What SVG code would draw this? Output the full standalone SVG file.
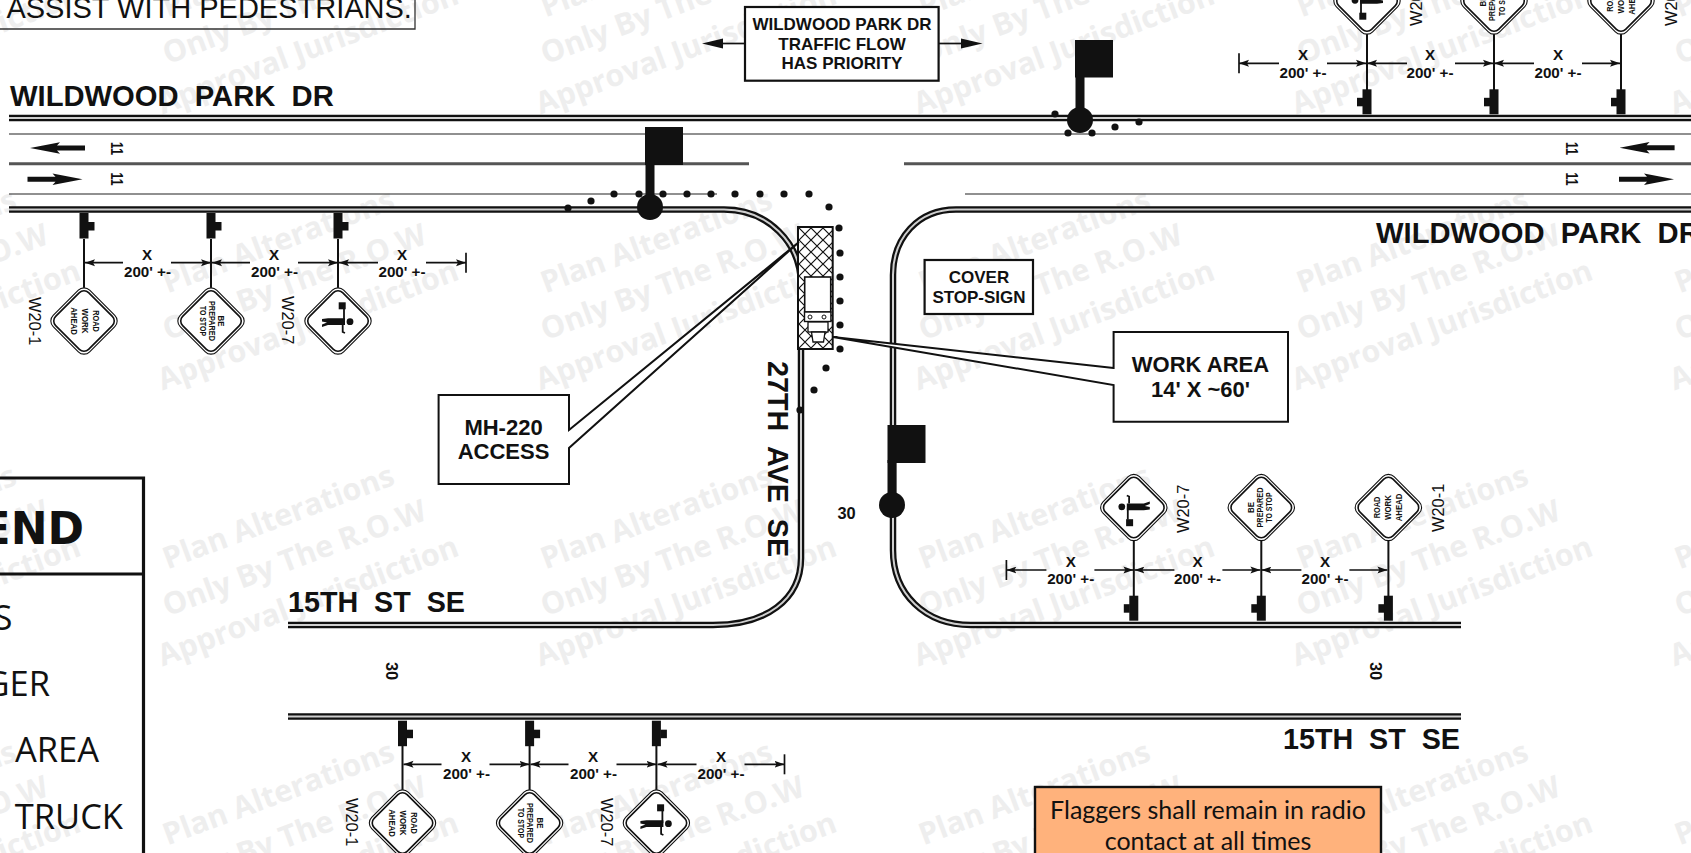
<svg xmlns="http://www.w3.org/2000/svg" xmlns:xlink="http://www.w3.org/1999/xlink" width="1691" height="853" viewBox="0 0 1691 853">
<style>
text{font-family:"Liberation Sans",Arial,sans-serif;fill:#111;white-space:pre}
.b{font-weight:bold}
.st{font-weight:bold;font-size:28.7px}
.wp{font-size:29.2px}
.mid{text-anchor:middle}
.box{font-weight:bold;font-size:17px;text-anchor:middle}
.cal{font-weight:bold;font-size:22px;text-anchor:middle}
.dx{font-weight:bold;font-size:15.2px;text-anchor:middle}
.sg{font-size:16.4px}
.sn{font-weight:bold;font-size:8.6px;text-anchor:middle}
.wm{font-family:"Open Sans",sans-serif;font-weight:700;fill:#eeeeee}
.leg{font-family:"Open Sans",sans-serif;font-size:34.5px;text-anchor:end}
.curb0{fill:none;stroke:#111;stroke-width:6.5}
.curb1{fill:none;stroke:#cfcfcf;stroke-width:2}
.thin{fill:none;stroke:#222;stroke-width:1.2}
.midl{fill:none;stroke:#555;stroke-width:3}
.pole{fill:none;stroke:#111;stroke-width:2}
.dim{fill:none;stroke:#111;stroke-width:1.7}
.k{fill:#111}
.rb{fill:#fff;stroke:#111;stroke-width:2.2}
.lead{fill:none;stroke:#111;stroke-width:2}
</style>
<defs>
<marker id="ah" markerUnits="userSpaceOnUse" markerWidth="12" markerHeight="10" refX="10" refY="5" orient="auto"><path d="M0 1.5L10 5L0 8.5L2 5Z" fill="#111"/></marker>
<pattern id="hatch" patternUnits="userSpaceOnUse" width="12" height="12" patternTransform="translate(799 228)"><path d="M0 0L12 12M12 0L0 12" stroke="#111" stroke-width="1.2" fill="none"/></pattern>
<g id="dia"><rect x="-25.8" y="-25.8" width="51.6" height="51.6" rx="8" transform="rotate(45)" fill="#fff" stroke="#111" stroke-width="1.1"/><rect x="-23.3" y="-23.3" width="46.6" height="46.6" rx="6.5" transform="rotate(45)" fill="#fff" stroke="#111" stroke-width="1.6"/></g>
<g id="postL"><rect x="-4.5" y="0" width="9" height="25.5" class="k"/><rect x="4" y="9" width="6.5" height="8.5" class="k"/></g>
<g id="postR"><rect x="-4.5" y="0" width="9" height="25" class="k"/><rect x="-10" y="8.5" width="6" height="8.5" class="k"/></g>
<g id="flagger"><rect x="0.7" y="-18.7" width="7" height="7" class="k"/><path d="M6 -12V0M4.7 4V11L7 12" fill="none" stroke="#111" stroke-width="1.8"/><path d="M-10 -2.7H7V4H-10L-16 6V3.6L-11 1.5L-16 0.4V-2Z" class="k"/><circle cx="12" cy="0.7" r="3.4" class="k"/></g>
<g id="dims"><path class="dim" d="M39 0H1" marker-end="url(#ah)"/><path class="dim" d="M87 0H127" marker-end="url(#ah)"/><path class="dim" d="M166 0H128" marker-end="url(#ah)"/><path class="dim" d="M214 0H254" marker-end="url(#ah)"/><path class="dim" d="M294 0H255" marker-end="url(#ah)"/><path class="dim" d="M342 0H382" marker-end="url(#ah)"/><path class="dim" d="M382 -10V10"/></g>
<g id="wmk"><text class="wm" font-size="30.4" transform="rotate(-20.5)">Plan Alterations</text><text class="wm" font-size="30.4" transform="translate(0 47) rotate(-20.5)">Only By The R.O.W</text><text class="wm" font-size="30.4" transform="translate(-5 97) rotate(-20.5)">Approval Jurisdiction</text></g>
<path id="arrR" d="M0 -2.5H28L25 -5.7L55 0L25 5.7L28 2.5H0Z"/>
</defs>
<rect width="1691" height="853" fill="#fff"/>
<g id="watermark" transform="translate(3.5 6.5)">
<use href="#wmk" x="-214" y="11"/><use href="#wmk" x="164" y="11"/><use href="#wmk" x="542" y="11"/><use href="#wmk" x="920" y="11"/><use href="#wmk" x="1298" y="11"/><use href="#wmk" x="1676" y="11"/>
<use href="#wmk" x="-214" y="287"/><use href="#wmk" x="164" y="287"/><use href="#wmk" x="542" y="287"/><use href="#wmk" x="920" y="287"/><use href="#wmk" x="1298" y="287"/><use href="#wmk" x="1676" y="287"/>
<use href="#wmk" x="-214" y="563"/><use href="#wmk" x="164" y="563"/><use href="#wmk" x="542" y="563"/><use href="#wmk" x="920" y="563"/><use href="#wmk" x="1298" y="563"/><use href="#wmk" x="1676" y="563"/>
<use href="#wmk" x="-214" y="839"/><use href="#wmk" x="164" y="839"/><use href="#wmk" x="542" y="839"/><use href="#wmk" x="920" y="839"/><use href="#wmk" x="1298" y="839"/><use href="#wmk" x="1676" y="839"/>
</g>
<g id="roads">
<path class="curb0" d="M9 118H1691"/><path class="curb1" d="M9 118H1691"/>
<path class="thin" d="M9 134H1691M9 194H717M965 194H1691"/>
<path class="midl" d="M9 163.7H749M904 163.7H1691"/>
<path id="curb-west" class="curb0" d="M9 209.5H724C768 209.5 801 243 801 285V558C801 600 766 625 713 625H288"/>
<path class="curb1" d="M9 209.5H724C768 209.5 801 243 801 285V558C801 600 766 625 713 625H288"/>
<path id="curb-east" class="curb0" d="M1691 209.5H956C918 209.5 893 238 893 275V550C893 594 925 625 971 625H1461"/>
<path class="curb1" d="M1691 209.5H956C918 209.5 893 238 893 275V550C893 594 925 625 971 625H1461"/>
<path class="curb0" d="M288 716.5H1461"/><path class="curb1" d="M288 716.5H1461"/>
</g>
<g id="lane-arrows">
<use href="#arrR" transform="translate(85 148) scale(-1 1)" class="k"/><use href="#arrR" transform="translate(27.5 179.3)" class="k"/>
<use href="#arrR" transform="translate(1674.6 147.7) scale(-1 1)" class="k"/><use href="#arrR" transform="translate(1619 179.3)" class="k"/>
<text class="b" font-size="16" textLength="13" lengthAdjust="spacingAndGlyphs" transform="translate(111.4 142) rotate(90)">11</text>
<text class="b" font-size="16" textLength="13" lengthAdjust="spacingAndGlyphs" transform="translate(111.4 172.5) rotate(90)">11</text>
<text class="b" font-size="16" textLength="13" lengthAdjust="spacingAndGlyphs" transform="translate(1566 142) rotate(90)">11</text>
<text class="b" font-size="16" textLength="13" lengthAdjust="spacingAndGlyphs" transform="translate(1566 172.5) rotate(90)">11</text>
</g>
<g id="street-names">
<text class="st wp" x="10" y="105.5">WILDWOOD  PARK  DR</text>
<text class="st wp" x="1376" y="243">WILDWOOD  PARK  DR</text>
<text class="st" x="288" y="612">15TH  ST  SE</text>
<text class="st" x="1283" y="749">15TH  ST  SE</text>
<text class="st" transform="translate(768 361) rotate(90)">27TH  AVE  SE</text>
<text class="b" font-size="16.4" x="837.5" y="519">30</text>
<text class="b" font-size="16.4" transform="translate(386 662) rotate(90)">30</text>
<text class="b" font-size="16.4" transform="translate(1369.5 662) rotate(90)">30</text>
</g>
<g id="note-top"><path d="M-2 29H415V-2" fill="none" stroke="#333" stroke-width="1.3"/><text font-size="29" x="6.4" y="18.3">ASSIST WITH PEDESTRIANS.</text></g>
<g id="legend"><path d="M-3 478H143.5V856M-3 574H143.5" fill="none" stroke="#111" stroke-width="3.2"/>
<text style="font-family:'DejaVu Sans',sans-serif;font-weight:bold;font-size:44px;text-anchor:end" x="84" y="544">END</text>
<text class="leg" x="12.5" y="629.5">S</text><text class="leg" x="50" y="695.5">GER</text><text class="leg" x="99" y="762">AREA</text><text class="leg" x="123" y="828.5">TRUCK</text></g>
<g id="connectors">
<path class="dim" d="M745 43.5H722"/><path class="k" d="M723 38.5L702 43.5L723 48.5Z"/>
<path class="dim" d="M938.6 43.5H962"/><path class="k" d="M961 38.5L982.5 43.5L961 48.5Z"/>
<use href="#dims" x="84" y="262.7"/>
<use href="#dims" x="402.5" y="764.3"/>
<use href="#dims" transform="translate(1621 63.3) scale(-1 1)"/>
<use href="#dims" transform="translate(1388.4 570) scale(-1 1)"/>
</g>
<g id="work-area">
<rect x="798" y="227" width="34.7" height="122" fill="#fff"/>
<rect x="798" y="227" width="34.7" height="122" fill="url(#hatch)" stroke="#111" stroke-width="2"/>
<rect x="804.7" y="277" width="26" height="35" fill="#fff" stroke="#111" stroke-width="1.6"/>
<rect x="804.5" y="312" width="26.4" height="9.5" fill="#fff" stroke="#111" stroke-width="1.4"/>
<circle cx="810" cy="317" r="2" fill="#fff" stroke="#111" stroke-width="1"/><circle cx="824" cy="317" r="2" fill="#fff" stroke="#111" stroke-width="1"/>
<rect x="808" y="322" width="20" height="10" fill="#fff" stroke="#111" stroke-width="1.3"/>
<path d="M811.5 332H825L823.5 342H813Z" fill="#fff" stroke="#111" stroke-width="1.3"/>
</g>
<g id="flag-1"><rect x="645" y="127" width="38" height="38" class="k"/><rect x="645.5" y="160" width="9" height="45" class="k"/><circle cx="650" cy="207" r="13" class="k"/></g>
<g id="flag-2"><rect x="1075" y="40" width="38" height="37.5" class="k"/><rect x="1075.5" y="75" width="9" height="40" class="k"/><circle cx="1080" cy="120" r="13" class="k"/></g>
<g id="flag-3"><rect x="887.5" y="425" width="38" height="38" class="k"/><rect x="887.5" y="460" width="9" height="40" class="k"/><circle cx="892" cy="505" r="13" class="k"/></g>
<g id="taper" class="k">
<circle cx="568" cy="208" r="3.6"/><circle cx="591" cy="201" r="3.6"/><circle cx="614" cy="194" r="3.6"/><circle cx="639" cy="194" r="3.6"/><circle cx="663" cy="194" r="3.6"/><circle cx="687" cy="194" r="3.6"/><circle cx="711" cy="194" r="3.6"/><circle cx="735" cy="194" r="3.6"/><circle cx="760" cy="194" r="3.6"/><circle cx="784" cy="194" r="3.6"/><circle cx="809" cy="194" r="3.6"/><circle cx="829" cy="207" r="3.6"/><circle cx="839" cy="228" r="3.6"/><circle cx="840" cy="253" r="3.6"/><circle cx="840" cy="277" r="3.6"/><circle cx="840" cy="301" r="3.6"/><circle cx="840" cy="325" r="3.6"/><circle cx="840" cy="349" r="3.6"/><circle cx="826" cy="368" r="3.6"/><circle cx="814" cy="390" r="3.6"/><circle cx="800" cy="410" r="3.6"/>
<circle cx="1055" cy="114" r="3.6"/><circle cx="1068" cy="133" r="3.6"/><circle cx="1092" cy="133" r="3.6"/><circle cx="1115" cy="127" r="3.6"/><circle cx="1139" cy="122" r="3.6"/>
</g>
<g id="box-priority"><rect class="rb" x="745" y="7" width="193.6" height="73.7"/><text class="box" x="842" y="30">WILDWOOD PARK DR</text><text class="box" x="842" y="49.5">TRAFFIC FLOW</text><text class="box" x="842" y="69">HAS PRIORITY</text></g>
<g id="box-cover"><rect class="rb" x="924.6" y="260" width="108.4" height="54"/><text class="box" x="979" y="283">COVER</text><text class="box" x="979" y="303">STOP-SIGN</text></g>
<g id="box-mh"><path d="M569 430L799 242L569 448V484H438.6V395H569Z" fill="#fff"/><path class="lead" d="M569 430L799 242L569 448V484H438.6V395H569Z"/><text class="cal" x="503.5" y="435">MH-220</text><text class="cal" x="503.5" y="459">ACCESS</text></g>
<g id="box-work"><path d="M1113.6 368L833 337L1113.6 385V421.7H1288V332H1113.6Z" fill="#fff"/><path class="lead" d="M1113.6 368L833 337L1113.6 385V421.7H1288V332H1113.6Z"/><text class="cal" x="1200.5" y="372">WORK AREA</text><text class="cal" x="1200.5" y="397">14' X ~60'</text></g>
<g id="box-radio"><rect x="1035" y="787" width="346" height="75" fill="#ffb27c" stroke="#111" stroke-width="2.4"/><text style="font-family:Lato,sans-serif;font-size:25px;text-anchor:middle" x="1208" y="819">Flaggers shall remain in radio</text><text style="font-family:Lato,sans-serif;font-size:25px;text-anchor:middle" x="1208" y="850">contact at all times</text></g>
<g id="sign-tl-1"><path class="pole" d="M84 239V289"/><use href="#postL" x="84" y="213"/><use href="#dia" x="84" y="321"/><text class="sn" textLength="21.7" lengthAdjust="spacingAndGlyphs" transform="translate(92.5 321) rotate(90)">ROAD</text><text class="sn" textLength="25" lengthAdjust="spacingAndGlyphs" transform="translate(81.5 321) rotate(90)">WORK</text><text class="sn" textLength="27.7" lengthAdjust="spacingAndGlyphs" transform="translate(70.5 321) rotate(90)">AHEAD</text><text class="sg" transform="translate(28.6 297) rotate(90)">W20-1</text></g>
<g id="sign-tl-2"><path class="pole" d="M211 239V289"/><use href="#postL" x="211" y="213"/><use href="#dia" x="211" y="321"/><text class="sn" textLength="11" lengthAdjust="spacingAndGlyphs" transform="translate(218 321) rotate(90)">BE</text><text class="sn" textLength="40" lengthAdjust="spacingAndGlyphs" transform="translate(208.5 321) rotate(90)">PREPARED</text><text class="sn" textLength="30" lengthAdjust="spacingAndGlyphs" transform="translate(199.5 321) rotate(90)">TO STOP</text></g>
<g id="sign-tl-3"><path class="pole" d="M338 239V289"/><use href="#postL" x="338" y="213"/><use href="#dia" x="338" y="321"/><use href="#flagger" x="338" y="321"/><text class="sg" transform="translate(282 296) rotate(90)">W20-7</text></g>
<g id="sign-bl-1"><path class="pole" d="M402.5 745V791"/><use href="#postL" x="402.5" y="720.7"/><use href="#dia" x="402.5" y="823"/><text class="sn" textLength="21.7" lengthAdjust="spacingAndGlyphs" transform="translate(411 823) rotate(90)">ROAD</text><text class="sn" textLength="25" lengthAdjust="spacingAndGlyphs" transform="translate(400 823) rotate(90)">WORK</text><text class="sn" textLength="27.7" lengthAdjust="spacingAndGlyphs" transform="translate(389 823) rotate(90)">AHEAD</text><text class="sg" transform="translate(346.4 798) rotate(90)">W20-1</text></g>
<g id="sign-bl-2"><path class="pole" d="M529.6 745V791"/><use href="#postL" x="529.6" y="720.7"/><use href="#dia" x="529.6" y="823"/><text class="sn" textLength="11" lengthAdjust="spacingAndGlyphs" transform="translate(536.6 823) rotate(90)">BE</text><text class="sn" textLength="40" lengthAdjust="spacingAndGlyphs" transform="translate(527 823) rotate(90)">PREPARED</text><text class="sn" textLength="30" lengthAdjust="spacingAndGlyphs" transform="translate(518 823) rotate(90)">TO STOP</text></g>
<g id="sign-bl-3"><path class="pole" d="M656.4 745V791"/><use href="#postL" x="656.4" y="720.7"/><use href="#dia" x="656.4" y="823"/><use href="#flagger" x="656.4" y="823"/><text class="sg" transform="translate(601 798) rotate(90)">W20-7</text></g>
<g id="sign-tr-1"><path class="pole" d="M1367 33V90"/><use href="#postR" x="1367" y="89.3"/><use href="#dia" x="1367" y="1"/><use href="#flagger" transform="translate(1367 1) rotate(180)"/><text class="sg" transform="translate(1422 26) rotate(-90)">W20-7</text></g>
<g id="sign-tr-2"><path class="pole" d="M1494 33V90"/><use href="#postR" x="1494" y="89.3"/><use href="#dia" x="1494" y="1"/><text class="sn" textLength="11" lengthAdjust="spacingAndGlyphs" transform="translate(1485.5 1) rotate(-90)">BE</text><text class="sn" textLength="40" lengthAdjust="spacingAndGlyphs" transform="translate(1495 1) rotate(-90)">PREPARED</text><text class="sn" textLength="30" lengthAdjust="spacingAndGlyphs" transform="translate(1504.5 1) rotate(-90)">TO STOP</text></g>
<g id="sign-tr-3"><path class="pole" d="M1621 33V90"/><use href="#postR" x="1621" y="89.3"/><use href="#dia" x="1621" y="1"/><text class="sn" textLength="21.7" lengthAdjust="spacingAndGlyphs" transform="translate(1613 1) rotate(-90)">ROAD</text><text class="sn" textLength="25" lengthAdjust="spacingAndGlyphs" transform="translate(1624 1) rotate(-90)">WORK</text><text class="sn" textLength="27.7" lengthAdjust="spacingAndGlyphs" transform="translate(1635 1) rotate(-90)">AHEAD</text><text class="sg" transform="translate(1677 26) rotate(-90)">W20-1</text></g>
<g id="sign-br-1"><path class="pole" d="M1133.8 540V596"/><use href="#postR" x="1133.8" y="595.7"/><use href="#dia" x="1133.8" y="507.5"/><use href="#flagger" transform="translate(1133.8 507.5) rotate(180)"/><text class="sg" transform="translate(1189 533) rotate(-90)">W20-7</text></g>
<g id="sign-br-2"><path class="pole" d="M1261.3 540V596"/><use href="#postR" x="1261.3" y="595.7"/><use href="#dia" x="1261.3" y="507.5"/><text class="sn" textLength="11" lengthAdjust="spacingAndGlyphs" transform="translate(1253.5 507.5) rotate(-90)">BE</text><text class="sn" textLength="40" lengthAdjust="spacingAndGlyphs" transform="translate(1262.5 507.5) rotate(-90)">PREPARED</text><text class="sn" textLength="30" lengthAdjust="spacingAndGlyphs" transform="translate(1272 507.5) rotate(-90)">TO STOP</text></g>
<g id="sign-br-3"><path class="pole" d="M1388.4 540V596"/><use href="#postR" x="1388.4" y="595.7"/><use href="#dia" x="1388.4" y="507.5"/><text class="sn" textLength="21.7" lengthAdjust="spacingAndGlyphs" transform="translate(1380 507.5) rotate(-90)">ROAD</text><text class="sn" textLength="25" lengthAdjust="spacingAndGlyphs" transform="translate(1391 507.5) rotate(-90)">WORK</text><text class="sn" textLength="27.7" lengthAdjust="spacingAndGlyphs" transform="translate(1401.5 507.5) rotate(-90)">AHEAD</text><text class="sg" transform="translate(1444 532) rotate(-90)">W20-1</text></g>
<g id="dim-labels">
<text class="dx" x="147" y="260">X</text><text class="dx" x="147.5" y="277">200' +-</text>
<text class="dx" x="274" y="260">X</text><text class="dx" x="274.5" y="277">200' +-</text>
<text class="dx" x="402" y="260">X</text><text class="dx" x="402" y="277">200' +-</text>
<text class="dx" x="466" y="762">X</text><text class="dx" x="466.5" y="779">200' +-</text>
<text class="dx" x="593" y="762">X</text><text class="dx" x="593.5" y="779">200' +-</text>
<text class="dx" x="721" y="762">X</text><text class="dx" x="721" y="779">200' +-</text>
<text class="dx" x="1303" y="60">X</text><text class="dx" x="1303" y="78">200' +-</text>
<text class="dx" x="1430" y="60">X</text><text class="dx" x="1430" y="78">200' +-</text>
<text class="dx" x="1558" y="60">X</text><text class="dx" x="1558" y="78">200' +-</text>
<text class="dx" x="1070.7" y="567">X</text><text class="dx" x="1070.7" y="584">200' +-</text>
<text class="dx" x="1197.6" y="567">X</text><text class="dx" x="1197.6" y="584">200' +-</text>
<text class="dx" x="1325" y="567">X</text><text class="dx" x="1325" y="584">200' +-</text>
</g>
</svg>
